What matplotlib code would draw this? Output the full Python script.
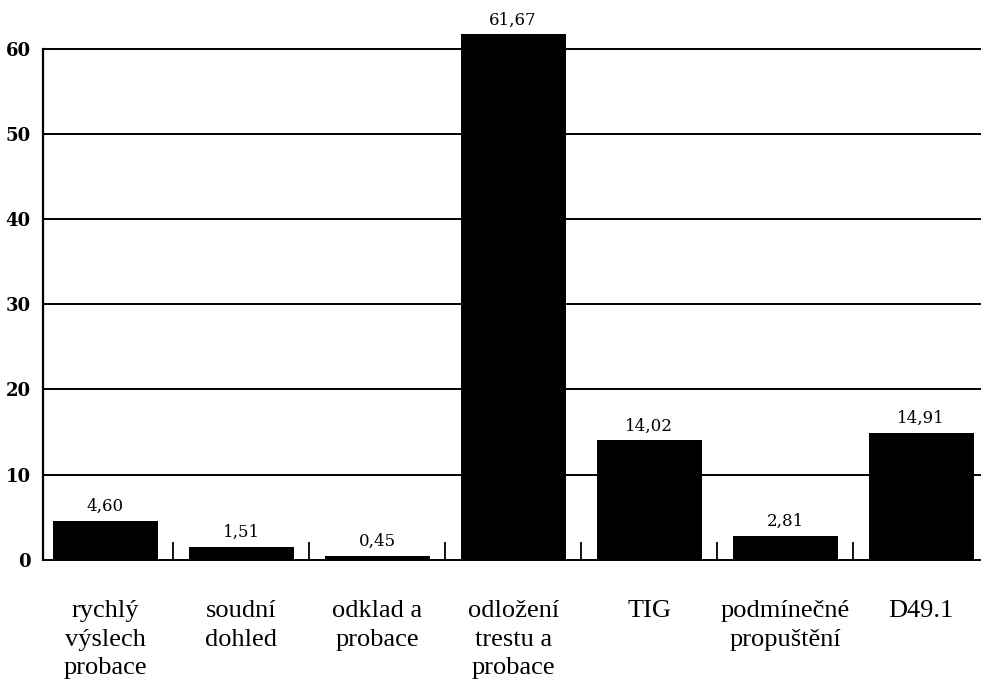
import matplotlib
matplotlib.use("Agg")
from matplotlib import pyplot as plt
import numpy as np

categories = ["rychlý\nvýslech\nprobace", "soudní\ndohled", "odklad a\nprobace",
              "odložení\ntrestu a\nprobace", "TIG", "podmínečné\npropuštění", "D49.1"]
values = [4.60, 1.51, 0.45, 61.67, 14.02, 2.81, 14.91]
value_labels = ["4,60", "1,51", "0,45", "61,67", "14,02", "2,81", "14,91"]
yticks = [0, 10, 20, 30, 40, 50, 60]


def main():
    plt.rcParams['font.family'] = ['Liberation Serif', 'DejaVu Serif']
    fig = plt.figure(figsize=(9.81, 6.86), dpi=100)
    ax = fig.add_axes([0.044, 0.184, 0.956, 0.77])

    x = np.arange(len(values))
    ax.bar(x, values, width=0.77, color="black", zorder=3)

    for xi, v, lab in zip(x, values, value_labels):
        ax.text(xi, v + 0.7, lab, ha="center", va="bottom", fontsize=12,
                family="DejaVu Serif", clip_on=False)

    ax.set_xlim(-0.456, 6.44)
    ax.set_ylim(0, 62)
    ax.set_yticks(yticks)
    ax.set_yticklabels([str(t) for t in yticks], fontsize=13,
                       family="DejaVu Serif", fontweight="semibold")
    ax.tick_params(axis="y", length=0, pad=9)

    for t in yticks[1:]:
        ax.axhline(t, color="black", linewidth=1.4, zorder=1)

    ax.set_xticks(x)
    ax.set_xticklabels(categories, fontsize=19, linespacing=1.38, va="top")
    ax.tick_params(axis="x", which="major", length=0, pad=29)
    ax.set_xticks(x[:-1] + 0.5, minor=True)
    ax.tick_params(axis="x", which="minor", direction="in", length=13,
                   width=1.3, color="black")

    for s in ["top", "right"]:
        ax.spines[s].set_visible(False)
    ax.spines["left"].set_linewidth(1.6)
    ax.spines["left"].set_bounds(0, 60)
    ax.spines["bottom"].set_linewidth(1.4)

    fig.savefig("out.png", dpi=100)


if __name__ == "__main__":
    main()
